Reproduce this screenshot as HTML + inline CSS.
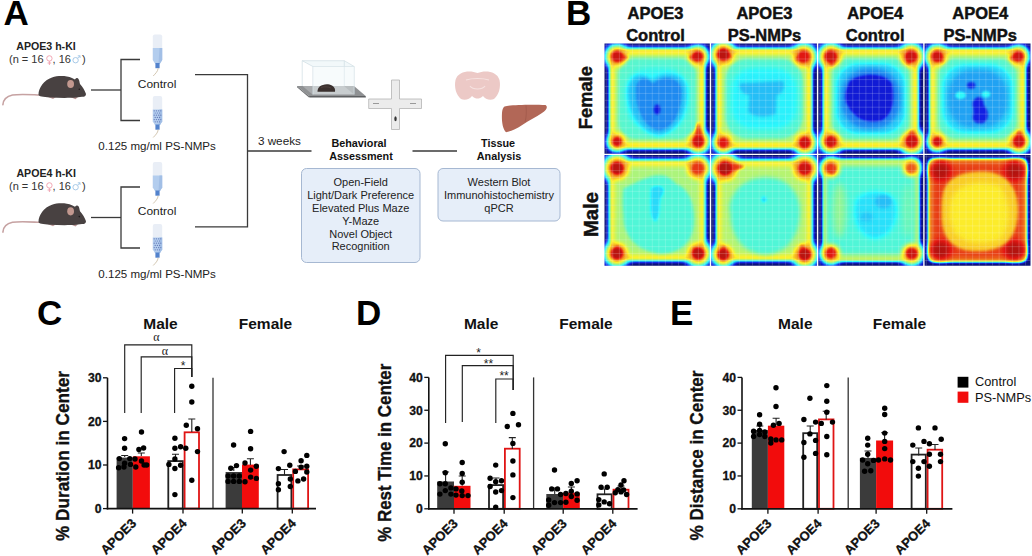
<!DOCTYPE html><html><head><meta charset="utf-8"><title>Figure</title><style>html,body{margin:0;padding:0;background:#fff;width:1032px;height:556px;overflow:hidden;}body{font-family:'Liberation Sans', sans-serif;position:relative;}</style></head><body><svg width="1032" height="556" viewBox="0 0 1032 556" style="position:absolute;left:0;top:0;font-family:'Liberation Sans', sans-serif"><defs><filter id="b0_6" x="-50%" y="-50%" width="200%" height="200%" color-interpolation-filters="sRGB"><feGaussianBlur stdDeviation="0.6"/></filter><filter id="b0_8" x="-50%" y="-50%" width="200%" height="200%" color-interpolation-filters="sRGB"><feGaussianBlur stdDeviation="0.8"/></filter><filter id="b1_0" x="-50%" y="-50%" width="200%" height="200%" color-interpolation-filters="sRGB"><feGaussianBlur stdDeviation="1.0"/></filter><filter id="b1_2" x="-50%" y="-50%" width="200%" height="200%" color-interpolation-filters="sRGB"><feGaussianBlur stdDeviation="1.2"/></filter><filter id="b1_5" x="-50%" y="-50%" width="200%" height="200%" color-interpolation-filters="sRGB"><feGaussianBlur stdDeviation="1.5"/></filter><filter id="b1_8" x="-50%" y="-50%" width="200%" height="200%" color-interpolation-filters="sRGB"><feGaussianBlur stdDeviation="1.8"/></filter><filter id="b2_0" x="-50%" y="-50%" width="200%" height="200%" color-interpolation-filters="sRGB"><feGaussianBlur stdDeviation="2.0"/></filter><filter id="b2_5" x="-50%" y="-50%" width="200%" height="200%" color-interpolation-filters="sRGB"><feGaussianBlur stdDeviation="2.5"/></filter><filter id="b3_0" x="-50%" y="-50%" width="200%" height="200%" color-interpolation-filters="sRGB"><feGaussianBlur stdDeviation="3.0"/></filter><filter id="b3_5" x="-50%" y="-50%" width="200%" height="200%" color-interpolation-filters="sRGB"><feGaussianBlur stdDeviation="3.5"/></filter><filter id="b4_0" x="-50%" y="-50%" width="200%" height="200%" color-interpolation-filters="sRGB"><feGaussianBlur stdDeviation="4.0"/></filter><filter id="jet" x="0" y="0" width="100%" height="100%" color-interpolation-filters="sRGB"><feComponentTransfer><feFuncR type="table" tableValues="0.000 0.000 0.000 0.000 0.000 0.000 0.000 0.250 0.500 0.750 1.000 1.000 1.000 1.000 1.000 0.750 0.500"/><feFuncG type="table" tableValues="0.000 0.000 0.000 0.250 0.500 0.750 1.000 1.000 1.000 1.000 1.000 0.750 0.500 0.250 0.000 0.000 0.000"/><feFuncB type="table" tableValues="0.500 0.750 1.000 1.000 1.000 1.000 1.000 0.750 0.500 0.250 0.000 0.000 0.000 0.000 0.000 0.000 0.000"/></feComponentTransfer><feColorMatrix type="matrix" values="0.86 0.1 0.04 0 0.03  0.06 0.86 0.08 0 0.03  0.04 0.1 0.86 0 0.03  0 0 0 1 0"/></filter><pattern id="grid" x="604.5" y="43.5" width="7" height="7.35" patternUnits="userSpaceOnUse"><path d="M7 0 V7.35 H0" fill="none" stroke="#fff" stroke-width="0.7" opacity="0.35"/></pattern><clipPath id="c00"><rect x="604.5" y="43.5" width="105.3" height="110.2"/></clipPath><clipPath id="c10"><rect x="711.2" y="43.5" width="105.7" height="110.2"/></clipPath><clipPath id="c20"><rect x="818.3" y="43.5" width="104.9" height="110.2"/></clipPath><clipPath id="c30"><rect x="924.6" y="43.5" width="105.9" height="110.2"/></clipPath><clipPath id="c01"><rect x="604.5" y="155.1" width="105.3" height="110.6"/></clipPath><clipPath id="c11"><rect x="711.2" y="155.1" width="105.7" height="110.6"/></clipPath><clipPath id="c21"><rect x="818.3" y="155.1" width="104.9" height="110.6"/></clipPath><clipPath id="c31"><rect x="924.6" y="155.1" width="105.9" height="110.6"/></clipPath></defs><text x="3.5" y="25" font-size="35" font-weight="bold" text-anchor="start" fill="#000" >A</text>
<g transform="translate(0,0)"><path d="M39.5 95 C 30 94.6, 20 93.8, 12.5 95 C 6.5 96.3, 3.2 100, 2.9 104.8" fill="none" stroke="#c6a2a2" stroke-width="1.6" stroke-linecap="round"/><path d="M47 96.5 L 53 99 L 56 97 Z" fill="#c09a9a"/><path d="M69 96.5 L 75.5 99.3 L 78 97 Z" fill="#b89494"/><path d="M38.5 94.5 C 38.5 88, 44 80, 52 77.5 C 58 75.5, 66 75.5, 72 78 L 75 79.5 C 76 78, 77.5 77.5, 78.5 79 C 79.5 80.5, 79.5 82.5, 80 84 C 82.5 87, 85 90.5, 86 94 C 86 96, 84.5 96.8, 82 96.8 L 76 97.5 C 70 98, 60 98, 50 97.5 C 43 97, 38.5 96.5, 38.5 94.5 Z" fill="#484141"/><ellipse cx="70.6" cy="84" rx="3.4" ry="4.1" fill="#c2988f"/><circle cx="79.3" cy="89.3" r="0.8" fill="#1e1a1a"/></g>
<g transform="translate(0,127.3)"><path d="M39.5 95 C 30 94.6, 20 93.8, 12.5 95 C 6.5 96.3, 3.2 100, 2.9 104.8" fill="none" stroke="#c6a2a2" stroke-width="1.6" stroke-linecap="round"/><path d="M47 96.5 L 53 99 L 56 97 Z" fill="#c09a9a"/><path d="M69 96.5 L 75.5 99.3 L 78 97 Z" fill="#b89494"/><path d="M38.5 94.5 C 38.5 88, 44 80, 52 77.5 C 58 75.5, 66 75.5, 72 78 L 75 79.5 C 76 78, 77.5 77.5, 78.5 79 C 79.5 80.5, 79.5 82.5, 80 84 C 82.5 87, 85 90.5, 86 94 C 86 96, 84.5 96.8, 82 96.8 L 76 97.5 C 70 98, 60 98, 50 97.5 C 43 97, 38.5 96.5, 38.5 94.5 Z" fill="#484141"/><ellipse cx="70.6" cy="84" rx="3.4" ry="4.1" fill="#c2988f"/><circle cx="79.3" cy="89.3" r="0.8" fill="#1e1a1a"/></g>
<text x="46" y="50" font-size="10.5" font-weight="bold" text-anchor="middle" fill="#222" textLength="59.5" lengthAdjust="spacingAndGlyphs">APOE3 h-KI</text>
<text x="9" y="63.3" font-size="11" fill="#333">(n = 16</text>
<circle cx="49.4" cy="58.4" r="2.7" fill="none" stroke="#f0a2b0" stroke-width="0.95"/>
<path d="M49.4 61.1 V65 M47.6 63 H51.2" stroke="#f0a2b0" stroke-width="0.95" fill="none"/>
<text x="52.6" y="63.3" font-size="11" fill="#333">, 16</text>
<circle cx="75.6" cy="60.2" r="2.7" fill="none" stroke="#a2c6e6" stroke-width="0.95"/>
<path d="M77.5 58.3 L80 55.8 M77.8 55.8 H80 V58" stroke="#a2c6e6" stroke-width="0.9" fill="none"/>
<text x="82" y="63.3" font-size="11" fill="#333">)</text>
<text x="46.2" y="177" font-size="10.5" font-weight="bold" text-anchor="middle" fill="#222" textLength="59.5" lengthAdjust="spacingAndGlyphs">APOE4 h-KI</text>
<text x="9" y="190.3" font-size="11" fill="#333">(n = 16</text>
<circle cx="49.4" cy="185.4" r="2.7" fill="none" stroke="#f0a2b0" stroke-width="0.95"/>
<path d="M49.4 188.1 V192 M47.6 190 H51.2" stroke="#f0a2b0" stroke-width="0.95" fill="none"/>
<text x="52.6" y="190.3" font-size="11" fill="#333">, 16</text>
<circle cx="75.6" cy="187.2" r="2.7" fill="none" stroke="#a2c6e6" stroke-width="0.95"/>
<path d="M77.5 185.3 L80 182.8 M77.8 182.8 H80 V185" stroke="#a2c6e6" stroke-width="0.9" fill="none"/>
<text x="82" y="190.3" font-size="11" fill="#333">)</text>
<line x1="91" y1="90" x2="121" y2="90" stroke="#3a3a3a" stroke-width="1.3"/>
<path d="M140 59.5 H121 V120.5 H140" fill="none" stroke="#3a3a3a" stroke-width="1.3"/>
<text x="157.1" y="87.8" font-size="11.8" font-weight="normal" text-anchor="middle" fill="#222" textLength="38.6" lengthAdjust="spacingAndGlyphs">Control</text>
<text x="157.1" y="150.2" font-size="11.7" font-weight="normal" text-anchor="middle" fill="#222" textLength="117.5" lengthAdjust="spacingAndGlyphs">0.125 mg/ml PS-NMPs</text>
<line x1="91" y1="217.5" x2="121" y2="217.5" stroke="#3a3a3a" stroke-width="1.3"/>
<path d="M140 187.0 H121 V248.0 H140" fill="none" stroke="#3a3a3a" stroke-width="1.3"/>
<text x="157.1" y="215.3" font-size="11.8" font-weight="normal" text-anchor="middle" fill="#222" textLength="38.6" lengthAdjust="spacingAndGlyphs">Control</text>
<text x="157.1" y="277.7" font-size="11.7" font-weight="normal" text-anchor="middle" fill="#222" textLength="117.5" lengthAdjust="spacingAndGlyphs">0.125 mg/ml PS-NMPs</text>
<g transform="translate(152,34.5)"><path d="M0.8 2 Q0.8 0 2.8 0 H8.2 Q10.2 0 10.2 2 V25.5 L8 29 H3 L0.8 25.5 Z" fill="#e9eef6"/><path d="M0.8 13.5 H10.2 V25.5 L8 29 H3 L0.8 25.5 Z" fill="#b3cdee"/><path d="M7.5 13.5 H10.2 V25.5 L8 29 H6.5 Z" fill="#a2bfe6"/><rect x="3.4" y="28.5" width="4.2" height="5.2" fill="#5282cc"/><path d="M6.2 33.7 C 5.8 37, 3.5 39, 1.2 41.5" fill="none" stroke="#cdbfa8" stroke-width="0.9"/></g>
<g transform="translate(152,96)"><path d="M0.8 2 Q0.8 0 2.8 0 H8.2 Q10.2 0 10.2 2 V25.5 L8 29 H3 L0.8 25.5 Z" fill="#e9eef6"/><path d="M0.8 13.5 H10.2 V25.5 L8 29 H3 L0.8 25.5 Z" fill="#b3cdee"/><path d="M7.5 13.5 H10.2 V25.5 L8 29 H6.5 Z" fill="#a2bfe6"/><circle cx="2.2" cy="14.8" r="0.62" fill="#6478b8"/><circle cx="4.4" cy="14.8" r="0.62" fill="#6478b8"/><circle cx="6.6" cy="14.8" r="0.62" fill="#6478b8"/><circle cx="8.8" cy="14.8" r="0.62" fill="#6478b8"/><circle cx="3.2" cy="17.0" r="0.62" fill="#6478b8"/><circle cx="5.4" cy="17.0" r="0.62" fill="#6478b8"/><circle cx="7.6" cy="17.0" r="0.62" fill="#6478b8"/><circle cx="2.2" cy="19.2" r="0.62" fill="#6478b8"/><circle cx="4.4" cy="19.2" r="0.62" fill="#6478b8"/><circle cx="6.6" cy="19.2" r="0.62" fill="#6478b8"/><circle cx="8.8" cy="19.2" r="0.62" fill="#6478b8"/><circle cx="3.2" cy="21.4" r="0.62" fill="#6478b8"/><circle cx="5.4" cy="21.4" r="0.62" fill="#6478b8"/><circle cx="7.6" cy="21.4" r="0.62" fill="#6478b8"/><circle cx="2.2" cy="23.6" r="0.62" fill="#6478b8"/><circle cx="4.4" cy="23.6" r="0.62" fill="#6478b8"/><circle cx="6.6" cy="23.6" r="0.62" fill="#6478b8"/><circle cx="8.8" cy="23.6" r="0.62" fill="#6478b8"/><circle cx="3.2" cy="25.8" r="0.62" fill="#6478b8"/><circle cx="5.4" cy="25.8" r="0.62" fill="#6478b8"/><circle cx="7.6" cy="25.8" r="0.62" fill="#6478b8"/><rect x="3.4" y="28.5" width="4.2" height="5.2" fill="#5282cc"/><path d="M6.2 33.7 C 5.8 37, 3.5 39, 1.2 41.5" fill="none" stroke="#cdbfa8" stroke-width="0.9"/></g>
<g transform="translate(152,162)"><path d="M0.8 2 Q0.8 0 2.8 0 H8.2 Q10.2 0 10.2 2 V25.5 L8 29 H3 L0.8 25.5 Z" fill="#e9eef6"/><path d="M0.8 13.5 H10.2 V25.5 L8 29 H3 L0.8 25.5 Z" fill="#b3cdee"/><path d="M7.5 13.5 H10.2 V25.5 L8 29 H6.5 Z" fill="#a2bfe6"/><rect x="3.4" y="28.5" width="4.2" height="5.2" fill="#5282cc"/><path d="M6.2 33.7 C 5.8 37, 3.5 39, 1.2 41.5" fill="none" stroke="#cdbfa8" stroke-width="0.9"/></g>
<g transform="translate(152,224)"><path d="M0.8 2 Q0.8 0 2.8 0 H8.2 Q10.2 0 10.2 2 V25.5 L8 29 H3 L0.8 25.5 Z" fill="#e9eef6"/><path d="M0.8 13.5 H10.2 V25.5 L8 29 H3 L0.8 25.5 Z" fill="#b3cdee"/><path d="M7.5 13.5 H10.2 V25.5 L8 29 H6.5 Z" fill="#a2bfe6"/><circle cx="2.2" cy="14.8" r="0.62" fill="#6478b8"/><circle cx="4.4" cy="14.8" r="0.62" fill="#6478b8"/><circle cx="6.6" cy="14.8" r="0.62" fill="#6478b8"/><circle cx="8.8" cy="14.8" r="0.62" fill="#6478b8"/><circle cx="3.2" cy="17.0" r="0.62" fill="#6478b8"/><circle cx="5.4" cy="17.0" r="0.62" fill="#6478b8"/><circle cx="7.6" cy="17.0" r="0.62" fill="#6478b8"/><circle cx="2.2" cy="19.2" r="0.62" fill="#6478b8"/><circle cx="4.4" cy="19.2" r="0.62" fill="#6478b8"/><circle cx="6.6" cy="19.2" r="0.62" fill="#6478b8"/><circle cx="8.8" cy="19.2" r="0.62" fill="#6478b8"/><circle cx="3.2" cy="21.4" r="0.62" fill="#6478b8"/><circle cx="5.4" cy="21.4" r="0.62" fill="#6478b8"/><circle cx="7.6" cy="21.4" r="0.62" fill="#6478b8"/><circle cx="2.2" cy="23.6" r="0.62" fill="#6478b8"/><circle cx="4.4" cy="23.6" r="0.62" fill="#6478b8"/><circle cx="6.6" cy="23.6" r="0.62" fill="#6478b8"/><circle cx="8.8" cy="23.6" r="0.62" fill="#6478b8"/><circle cx="3.2" cy="25.8" r="0.62" fill="#6478b8"/><circle cx="5.4" cy="25.8" r="0.62" fill="#6478b8"/><circle cx="7.6" cy="25.8" r="0.62" fill="#6478b8"/><rect x="3.4" y="28.5" width="4.2" height="5.2" fill="#5282cc"/><path d="M6.2 33.7 C 5.8 37, 3.5 39, 1.2 41.5" fill="none" stroke="#cdbfa8" stroke-width="0.9"/></g>
<path d="M195 74.7 H247.5 V226.9 H195" fill="none" stroke="#3a3a3a" stroke-width="1.3"/>
<line x1="247.5" y1="151" x2="311.5" y2="151" stroke="#3a3a3a" stroke-width="1.3"/>
<line x1="412.5" y1="151" x2="457" y2="151" stroke="#3a3a3a" stroke-width="1.3"/>
<text x="279.4" y="145.2" font-size="11.7" font-weight="normal" text-anchor="middle" fill="#222" textLength="43" lengthAdjust="spacingAndGlyphs">3 weeks</text>
<path d="M297 86 H354 L365.7 96 H309 Z" fill="#8f9193"/>
<path d="M302.5 86 H344 L354 94.5 H312.5 Z" fill="#a9abad"/>
<path d="M309 96 H365.7 L365.9 97.6 H309.3 Z" fill="#5d5f61"/>
<path d="M297 86 L309 96 V97.6 L297 87.2 Z" fill="#6f7173"/>
<path d="M302.2 60.7 H344.3 L354.2 66.5 H312.9 Z" fill="#f2f8fa" stroke="#cfdde3" stroke-width="0.7"/>
<path d="M302.2 60.7 V86 M344.3 60.7 V86 M312.9 66.5 V94.5 M354.2 66.5 V94.5" fill="none" stroke="#cfdde3" stroke-width="0.7"/>
<path d="M312.9 66.5 H354.2 V94.5 H312.9 Z" fill="#eef6f8" opacity="0.45"/>
<path d="M317.5 91.8 C 317.5 88, 320 85.5, 323 85 C 325 84, 329 83.8, 332 85.5 C 334.5 87, 335.5 89.5, 335 91.8 Z" fill="#3a302e"/>
<path d="M321 87.5 C 324 86.5, 328 86.5, 331 88" fill="none" stroke="#5a4a46" stroke-width="0.6"/>
<path d="M391.5 80 H399.5 V99 H421.5 V108.5 H399.5 V129.5 H391.5 V108.5 H368.7 V99 H391.5 Z" fill="#ececec" stroke="#b4b4b4" stroke-width="0.8"/>
<rect x="373" y="103" width="6" height="1" fill="#999"/><rect x="410" y="103" width="6" height="1" fill="#999"/>
<ellipse cx="395.5" cy="118.8" rx="1.2" ry="2.5" fill="#333"/>
<text x="359" y="147.2" font-size="10.8" font-weight="bold" text-anchor="middle" fill="#111" >Behavioral</text>
<text x="361" y="159.8" font-size="10.8" font-weight="bold" text-anchor="middle" fill="#111" >Assessment</text>
<text x="498" y="146.8" font-size="10.8" font-weight="bold" text-anchor="middle" fill="#111" >Tissue</text>
<text x="499" y="160.0" font-size="10.8" font-weight="bold" text-anchor="middle" fill="#111" >Analysis</text>
<rect x="301.5" y="168.5" width="118.5" height="94" rx="5" fill="#e6eef9" stroke="#a6b8d2" stroke-width="1"/>
<text x="360.7" y="185.9" font-size="11" font-weight="normal" text-anchor="middle" fill="#222" >Open-Field</text>
<text x="360.7" y="198.8" font-size="11" font-weight="normal" text-anchor="middle" fill="#222" >Light/Dark Preference</text>
<text x="360.7" y="211.70000000000002" font-size="11" font-weight="normal" text-anchor="middle" fill="#222" >Elevated Plus Maze</text>
<text x="360.7" y="224.60000000000002" font-size="11" font-weight="normal" text-anchor="middle" fill="#222" >Y-Maze</text>
<text x="360.7" y="237.5" font-size="11" font-weight="normal" text-anchor="middle" fill="#222" >Novel Object</text>
<text x="360.7" y="250.4" font-size="11" font-weight="normal" text-anchor="middle" fill="#222" >Recognition</text>
<rect x="438" y="168.5" width="122" height="52.5" rx="5" fill="#e6eef9" stroke="#a6b8d2" stroke-width="1"/>
<text x="499" y="186.2" font-size="11" font-weight="normal" text-anchor="middle" fill="#222" >Western Blot</text>
<text x="499" y="199.1" font-size="11" font-weight="normal" text-anchor="middle" fill="#222" >Immunohistochemistry</text>
<text x="499" y="212.0" font-size="11" font-weight="normal" text-anchor="middle" fill="#222" >qPCR</text>
<path d="M477.5 73 C 470 70, 458 71, 455.5 80 C 454 87, 456 95, 461 99 C 465 101, 470 99, 472 96 C 474 98, 476 98.5, 477.5 98.5 C 479 98.5, 481 98, 483 96 C 485 99, 490 101, 494 99 C 499 95, 501 87, 499.5 80 C 497 71, 485 70, 477.5 73 Z" fill="#ecc9c6"/>
<path d="M470 86 C 473 90, 482 90, 485 86 M466 80 C 472 78, 483 78, 489 80" fill="none" stroke="#f6e2e0" stroke-width="1.2"/>
<path d="M504.5 106.5 C 512 104.5, 534 104.5, 545.5 105 C 548 106.5, 547 110, 542 113 C 536 117, 529 120.5, 523 124.5 C 516 129, 511 131.5, 506 132.2 C 502.5 129, 501.5 121, 502 113 C 502.2 110, 503 107.5, 504.5 106.5 Z" fill="#b26757"/>
<path d="M526 105.5 C 526.5 111, 526.5 117, 525 122" fill="none" stroke="#9a5446" stroke-width="0.6"/>
<text x="566" y="25" font-size="35" font-weight="bold" text-anchor="start" fill="#000" >B</text>
<text x="655.5" y="19" font-size="16.5" font-weight="bold" text-anchor="middle" fill="#111" stroke="#111" stroke-width="0.45">APOE3</text>
<text x="655.5" y="41" font-size="16.5" font-weight="bold" text-anchor="middle" fill="#111" stroke="#111" stroke-width="0.45">Control</text>
<text x="764.4" y="19" font-size="16.5" font-weight="bold" text-anchor="middle" fill="#111" stroke="#111" stroke-width="0.45">APOE3</text>
<text x="764.4" y="41" font-size="16.5" font-weight="bold" text-anchor="middle" fill="#111" stroke="#111" stroke-width="0.45">PS-NMPs</text>
<text x="875.2" y="19" font-size="16.5" font-weight="bold" text-anchor="middle" fill="#111" stroke="#111" stroke-width="0.45">APOE4</text>
<text x="875.2" y="41" font-size="16.5" font-weight="bold" text-anchor="middle" fill="#111" stroke="#111" stroke-width="0.45">Control</text>
<text x="980.3" y="19" font-size="16.5" font-weight="bold" text-anchor="middle" fill="#111" stroke="#111" stroke-width="0.45">APOE4</text>
<text x="980.3" y="41" font-size="16.5" font-weight="bold" text-anchor="middle" fill="#111" stroke="#111" stroke-width="0.45">PS-NMPs</text>
<text x="0" y="0" font-size="19" font-weight="bold" text-anchor="middle" fill="#111" transform="translate(592,97.7) rotate(-90)" textLength="63" lengthAdjust="spacingAndGlyphs" stroke="#111" stroke-width="0.45">Female</text>
<text x="0" y="0" font-size="19.5" font-weight="bold" text-anchor="middle" fill="#111" transform="translate(597.5,214.5) rotate(-90)" textLength="45" lengthAdjust="spacingAndGlyphs" stroke="#111" stroke-width="0.45">Male</text>
<rect x="603.5" y="42.5" width="428" height="225" fill="#ffffff"/>
<g clip-path="url(#c00)"><g filter="url(#jet)"><rect x="599.5" y="38.5" width="115.3" height="120.2" rx="0" fill="rgb(0,0,0)"/><rect x="608.1" y="46.5" width="98.1" height="103.8" rx="5" fill="rgb(87,87,87)" filter="url(#b0_8)"/><rect x="610.1" y="49.1" width="94.1" height="99.0" rx="7" fill="rgb(163,163,163)" filter="url(#b1_2)"/><rect x="614.5" y="54.5" width="85.3" height="88.2" rx="12" fill="rgb(138,138,138)" filter="url(#b1_5)"/><rect x="618.0" y="58.0" width="78.3" height="81.2" rx="18" fill="rgb(110,110,110)" filter="url(#b1_8)"/><rect x="626.5" y="67.5" width="61.3" height="62.2" rx="24" fill="rgb(99,99,99)" filter="url(#b3_0)"/><path d="M 627.7 87.6 C 631.9 72.2 642.4 72.2 651.9 79.9 C 663.5 69.9 684.5 72.2 686.6 87.6 C 688.7 107.4 680.3 131.7 659.3 136.1 C 636.1 131.7 625.6 105.2 627.7 87.6 Z" fill="rgb(79,79,79)" filter="url(#b2_0)"/><path d="M 636.1 85.4 C 639.2 76.6 646.6 76.6 652.9 83.2 C 663.5 74.4 680.3 76.6 681.4 89.8 C 682.4 107.4 676.1 127.3 659.3 130.6 C 642.4 127.3 634.0 105.2 636.1 85.4 Z" fill="rgb(64,64,64)" filter="url(#b1_2)"/><ellipse cx="657.1" cy="109.6" rx="3.2" ry="5.0" fill="rgb(31,31,31)" filter="url(#b1_0)"/><g style="mix-blend-mode:lighten"><circle cx="617.1" cy="56.5" r="13.8" fill="rgb(102,102,102)" filter="url(#b2_5)"/></g><circle cx="617.1" cy="56.5" r="9.6" fill="rgb(189,189,189)" filter="url(#b2_5)"/><path d="M613.3 52.7 L628.1 57.5 L621.0 60.4 Z" fill="rgb(214,214,214)" filter="url(#b1_5)"/><path d="M617.1 52.1 L628.1 57.5 L617.1 60.9 Z" fill="rgb(214,214,214)" filter="url(#b1_5)"/><circle cx="617.1" cy="56.5" r="5.5" fill="rgb(230,230,230)" filter="url(#b1_2)"/><g style="mix-blend-mode:lighten"><circle cx="697.7" cy="56.5" r="12.5" fill="rgb(102,102,102)" filter="url(#b2_5)"/></g><circle cx="697.7" cy="56.5" r="8.8" fill="rgb(189,189,189)" filter="url(#b2_5)"/><path d="M694.2 60.0 L688.7 57.5 L701.2 53.0 Z" fill="rgb(214,214,214)" filter="url(#b1_5)"/><path d="M697.7 52.5 L688.7 57.5 L697.7 60.5 Z" fill="rgb(214,214,214)" filter="url(#b1_5)"/><circle cx="697.7" cy="56.5" r="5.0" fill="rgb(230,230,230)" filter="url(#b1_2)"/><g style="mix-blend-mode:lighten"><circle cx="617.1" cy="141.6" r="11.2" fill="rgb(102,102,102)" filter="url(#b2_5)"/></g><circle cx="617.1" cy="141.6" r="7.9" fill="rgb(189,189,189)" filter="url(#b2_5)"/><circle cx="617.1" cy="141.6" r="4.5" fill="rgb(230,230,230)" filter="url(#b1_2)"/><g style="mix-blend-mode:lighten"><circle cx="698.2" cy="141.6" r="13.8" fill="rgb(102,102,102)" filter="url(#b2_5)"/></g><circle cx="698.2" cy="141.6" r="9.6" fill="rgb(189,189,189)" filter="url(#b2_5)"/><path d="M694.4 145.4 L698.2 121.6 L702.1 137.7 Z" fill="rgb(214,214,214)" filter="url(#b1_5)"/><path d="M693.8 141.6 L698.2 121.6 L702.6 141.6 Z" fill="rgb(214,214,214)" filter="url(#b1_5)"/><circle cx="698.2" cy="141.6" r="5.5" fill="rgb(230,230,230)" filter="url(#b1_2)"/></g><path d="M606.20 43.5 V153.7 M612.78 43.5 V153.7 M619.36 43.5 V153.7 M625.94 43.5 V153.7 M632.53 43.5 V153.7 M639.11 43.5 V153.7 M645.69 43.5 V153.7 M652.27 43.5 V153.7 M658.85 43.5 V153.7 M665.43 43.5 V153.7 M672.01 43.5 V153.7 M678.59 43.5 V153.7 M685.17 43.5 V153.7 M691.76 43.5 V153.7 M698.34 43.5 V153.7 M704.92 43.5 V153.7 M604.5 45.20 H709.8 M604.5 52.09 H709.8 M604.5 58.98 H709.8 M604.5 65.86 H709.8 M604.5 72.75 H709.8 M604.5 79.64 H709.8 M604.5 86.53 H709.8 M604.5 93.41 H709.8 M604.5 100.30 H709.8 M604.5 107.19 H709.8 M604.5 114.08 H709.8 M604.5 120.96 H709.8 M604.5 127.85 H709.8 M604.5 134.74 H709.8 M604.5 141.62 H709.8 M604.5 148.51 H709.8" stroke="#ffffff" stroke-width="0.6" opacity="0.3" fill="none"/></g>
<g clip-path="url(#c10)"><g filter="url(#jet)"><rect x="706.2" y="38.5" width="115.7" height="120.2" rx="0" fill="rgb(0,0,0)"/><rect x="714.8" y="46.5" width="98.5" height="103.8" rx="5" fill="rgb(87,87,87)" filter="url(#b0_8)"/><rect x="716.8" y="49.1" width="94.5" height="99.0" rx="7" fill="rgb(163,163,163)" filter="url(#b1_2)"/><rect x="721.2" y="54.5" width="85.7" height="88.2" rx="12" fill="rgb(138,138,138)" filter="url(#b1_5)"/><rect x="725.2" y="58.5" width="77.7" height="80.2" rx="22" fill="rgb(110,110,110)" filter="url(#b1_8)"/><rect x="732.2" y="67.5" width="63.7" height="62.2" rx="26" fill="rgb(99,99,99)" filter="url(#b3_5)"/><rect x="732.3" y="69.9" width="63.4" height="57.3" rx="18" fill="rgb(94,94,94)" filter="url(#b3_0)"/><path d="M 739.7 83.2 L 783.1 81.0 C 786.2 87.6 782.0 94.2 776.7 95.3 L 775.7 114.0 C 764.0 118.4 753.5 117.3 748.2 111.8 L 749.3 95.3 C 742.9 94.2 738.7 89.8 739.7 83.2 Z" fill="rgb(79,79,79)" filter="url(#b1_5)"/><g style="mix-blend-mode:lighten"><circle cx="723.4" cy="54.5" r="15.0" fill="rgb(102,102,102)" filter="url(#b2_5)"/></g><circle cx="723.4" cy="54.5" r="10.5" fill="rgb(189,189,189)" filter="url(#b2_5)"/><path d="M719.2 50.3 L731.4 56.5 L727.6 58.7 Z" fill="rgb(214,214,214)" filter="url(#b1_5)"/><path d="M723.4 49.7 L731.4 56.5 L723.4 59.3 Z" fill="rgb(214,214,214)" filter="url(#b1_5)"/><circle cx="723.4" cy="54.5" r="6.0" fill="rgb(235,235,235)" filter="url(#b1_2)"/><g style="mix-blend-mode:lighten"><circle cx="803.7" cy="56.7" r="15.0" fill="rgb(102,102,102)" filter="url(#b2_5)"/></g><circle cx="803.7" cy="56.7" r="10.5" fill="rgb(189,189,189)" filter="url(#b2_5)"/><path d="M799.5 60.9 L795.7 58.7 L807.9 52.5 Z" fill="rgb(214,214,214)" filter="url(#b1_5)"/><path d="M803.7 51.9 L795.7 58.7 L803.7 61.5 Z" fill="rgb(214,214,214)" filter="url(#b1_5)"/><circle cx="803.7" cy="56.7" r="6.0" fill="rgb(224,224,224)" filter="url(#b1_2)"/><g style="mix-blend-mode:lighten"><circle cx="723.4" cy="142.7" r="12.5" fill="rgb(102,102,102)" filter="url(#b2_5)"/></g><circle cx="723.4" cy="142.7" r="8.8" fill="rgb(189,189,189)" filter="url(#b2_5)"/><circle cx="723.4" cy="142.7" r="5.0" fill="rgb(224,224,224)" filter="url(#b1_2)"/><g style="mix-blend-mode:lighten"><circle cx="804.7" cy="142.7" r="13.8" fill="rgb(102,102,102)" filter="url(#b2_5)"/></g><circle cx="804.7" cy="142.7" r="9.6" fill="rgb(189,189,189)" filter="url(#b2_5)"/><path d="M800.9 146.5 L804.7 136.7 L808.6 138.8 Z" fill="rgb(214,214,214)" filter="url(#b1_5)"/><path d="M800.3 142.7 L804.7 136.7 L809.1 142.7 Z" fill="rgb(214,214,214)" filter="url(#b1_5)"/><circle cx="804.7" cy="142.7" r="5.5" fill="rgb(230,230,230)" filter="url(#b1_2)"/></g><path d="M712.90 43.5 V153.7 M719.51 43.5 V153.7 M726.11 43.5 V153.7 M732.72 43.5 V153.7 M739.33 43.5 V153.7 M745.93 43.5 V153.7 M752.54 43.5 V153.7 M759.14 43.5 V153.7 M765.75 43.5 V153.7 M772.36 43.5 V153.7 M778.96 43.5 V153.7 M785.57 43.5 V153.7 M792.18 43.5 V153.7 M798.78 43.5 V153.7 M805.39 43.5 V153.7 M811.99 43.5 V153.7 M711.2 45.20 H816.9 M711.2 52.09 H816.9 M711.2 58.98 H816.9 M711.2 65.86 H816.9 M711.2 72.75 H816.9 M711.2 79.64 H816.9 M711.2 86.53 H816.9 M711.2 93.41 H816.9 M711.2 100.30 H816.9 M711.2 107.19 H816.9 M711.2 114.08 H816.9 M711.2 120.96 H816.9 M711.2 127.85 H816.9 M711.2 134.74 H816.9 M711.2 141.62 H816.9 M711.2 148.51 H816.9" stroke="#ffffff" stroke-width="0.6" opacity="0.3" fill="none"/></g>
<g clip-path="url(#c20)"><g filter="url(#jet)"><rect x="813.3" y="38.5" width="114.9" height="120.2" rx="0" fill="rgb(0,0,0)"/><rect x="821.9" y="46.5" width="97.7" height="103.8" rx="5" fill="rgb(87,87,87)" filter="url(#b0_8)"/><rect x="823.9" y="49.1" width="93.7" height="99.0" rx="7" fill="rgb(163,163,163)" filter="url(#b1_2)"/><rect x="828.3" y="54.5" width="84.9" height="88.2" rx="12" fill="rgb(138,138,138)" filter="url(#b1_5)"/><rect x="831.8" y="58.0" width="77.9" height="81.2" rx="18" fill="rgb(110,110,110)" filter="url(#b1_8)"/><rect x="836.3" y="63.5" width="68.9" height="70.2" rx="22" fill="rgb(84,84,84)" filter="url(#b2_0)"/><rect x="841.3" y="68.5" width="58.9" height="60.2" rx="26" fill="rgb(61,61,61)" filter="url(#b2_5)"/><path d="M 849.8 81.0 C 862.4 72.2 883.3 72.2 891.7 83.2 C 894.9 98.6 893.8 114.0 881.2 120.6 C 866.6 123.9 854.0 118.4 847.7 105.2 C 843.5 98.6 845.6 89.8 849.8 81.0 Z" fill="rgb(28,28,28)" filter="url(#b1_2)"/><g style="mix-blend-mode:lighten"><circle cx="830.9" cy="56.5" r="15.0" fill="rgb(102,102,102)" filter="url(#b2_5)"/></g><circle cx="830.9" cy="56.5" r="10.5" fill="rgb(189,189,189)" filter="url(#b2_5)"/><path d="M826.7 52.3 L831.9 66.5 L835.1 60.7 Z" fill="rgb(214,214,214)" filter="url(#b1_5)"/><path d="M826.1 56.5 L831.9 66.5 L835.7 56.5 Z" fill="rgb(214,214,214)" filter="url(#b1_5)"/><circle cx="830.9" cy="56.5" r="6.0" fill="rgb(230,230,230)" filter="url(#b1_2)"/><g style="mix-blend-mode:lighten"><circle cx="911.1" cy="56.5" r="15.0" fill="rgb(102,102,102)" filter="url(#b2_5)"/></g><circle cx="911.1" cy="56.5" r="10.5" fill="rgb(189,189,189)" filter="url(#b2_5)"/><path d="M906.9 60.7 L908.1 64.5 L915.3 52.3 Z" fill="rgb(214,214,214)" filter="url(#b1_5)"/><path d="M906.3 56.5 L908.1 64.5 L915.9 56.5 Z" fill="rgb(214,214,214)" filter="url(#b1_5)"/><circle cx="911.1" cy="56.5" r="6.0" fill="rgb(230,230,230)" filter="url(#b1_2)"/><g style="mix-blend-mode:lighten"><circle cx="830.9" cy="141.6" r="13.8" fill="rgb(102,102,102)" filter="url(#b2_5)"/></g><circle cx="830.9" cy="141.6" r="9.6" fill="rgb(189,189,189)" filter="url(#b2_5)"/><circle cx="830.9" cy="141.6" r="5.5" fill="rgb(230,230,230)" filter="url(#b1_2)"/><g style="mix-blend-mode:lighten"><circle cx="911.7" cy="141.6" r="15.0" fill="rgb(102,102,102)" filter="url(#b2_5)"/></g><circle cx="911.7" cy="141.6" r="10.5" fill="rgb(189,189,189)" filter="url(#b2_5)"/><path d="M907.5 145.8 L911.7 129.6 L915.9 137.4 Z" fill="rgb(214,214,214)" filter="url(#b1_5)"/><path d="M906.9 141.6 L911.7 129.6 L916.5 141.6 Z" fill="rgb(214,214,214)" filter="url(#b1_5)"/><circle cx="911.7" cy="141.6" r="6.0" fill="rgb(230,230,230)" filter="url(#b1_2)"/></g><path d="M820.00 43.5 V153.7 M826.56 43.5 V153.7 M833.11 43.5 V153.7 M839.67 43.5 V153.7 M846.23 43.5 V153.7 M852.78 43.5 V153.7 M859.34 43.5 V153.7 M865.89 43.5 V153.7 M872.45 43.5 V153.7 M879.01 43.5 V153.7 M885.56 43.5 V153.7 M892.12 43.5 V153.7 M898.68 43.5 V153.7 M905.23 43.5 V153.7 M911.79 43.5 V153.7 M918.34 43.5 V153.7 M818.3 45.20 H923.2 M818.3 52.09 H923.2 M818.3 58.98 H923.2 M818.3 65.86 H923.2 M818.3 72.75 H923.2 M818.3 79.64 H923.2 M818.3 86.53 H923.2 M818.3 93.41 H923.2 M818.3 100.30 H923.2 M818.3 107.19 H923.2 M818.3 114.08 H923.2 M818.3 120.96 H923.2 M818.3 127.85 H923.2 M818.3 134.74 H923.2 M818.3 141.62 H923.2 M818.3 148.51 H923.2" stroke="#ffffff" stroke-width="0.6" opacity="0.3" fill="none"/></g>
<g clip-path="url(#c30)"><g filter="url(#jet)"><rect x="919.6" y="38.5" width="115.9" height="120.2" rx="0" fill="rgb(0,0,0)"/><rect x="928.2" y="46.5" width="98.7" height="103.8" rx="5" fill="rgb(87,87,87)" filter="url(#b0_8)"/><rect x="930.2" y="49.1" width="94.7" height="99.0" rx="7" fill="rgb(163,163,163)" filter="url(#b1_2)"/><rect x="934.6" y="54.5" width="85.9" height="88.2" rx="12" fill="rgb(138,138,138)" filter="url(#b1_5)"/><rect x="938.1" y="58.5" width="78.9" height="80.2" rx="18" fill="rgb(110,110,110)" filter="url(#b1_8)"/><rect x="942.6" y="64.5" width="69.9" height="68.2" rx="22" fill="rgb(87,87,87)" filter="url(#b2_0)"/><rect x="947.6" y="69.5" width="59.9" height="58.2" rx="24" fill="rgb(71,71,71)" filter="url(#b2_5)"/><ellipse cx="971.2" cy="85.4" rx="4.2" ry="3.3" fill="rgb(36,36,36)" filter="url(#b1_0)"/><path d="M 973.3 100.8 C 977.5 94.2 983.9 96.4 983.9 105.2 C 988.1 109.6 990.3 118.4 983.9 122.8 C 975.4 125.0 971.2 120.6 973.3 114.0 C 974.4 109.6 971.2 105.2 973.3 100.8 Z" fill="rgb(33,33,33)" filter="url(#b1_0)"/><ellipse cx="960.6" cy="95.3" rx="5.3" ry="3.9" fill="rgb(97,97,97)" filter="url(#b1_2)"/><ellipse cx="986.0" cy="94.2" rx="4.2" ry="3.3" fill="rgb(97,97,97)" filter="url(#b1_2)"/><g style="mix-blend-mode:lighten"><circle cx="937.3" cy="56.5" r="13.8" fill="rgb(102,102,102)" filter="url(#b2_5)"/></g><circle cx="937.3" cy="56.5" r="9.6" fill="rgb(189,189,189)" filter="url(#b2_5)"/><path d="M933.5 52.7 L943.3 62.5 L941.2 60.4 Z" fill="rgb(214,214,214)" filter="url(#b1_5)"/><path d="M932.9 56.5 L943.3 62.5 L941.7 56.5 Z" fill="rgb(214,214,214)" filter="url(#b1_5)"/><circle cx="937.3" cy="56.5" r="5.5" fill="rgb(230,230,230)" filter="url(#b1_2)"/><g style="mix-blend-mode:lighten"><circle cx="1018.3" cy="56.5" r="12.5" fill="rgb(102,102,102)" filter="url(#b2_5)"/></g><circle cx="1018.3" cy="56.5" r="8.8" fill="rgb(189,189,189)" filter="url(#b2_5)"/><path d="M1014.8 60.0 L1009.3 58.5 L1021.8 53.0 Z" fill="rgb(214,214,214)" filter="url(#b1_5)"/><path d="M1018.3 52.5 L1009.3 58.5 L1018.3 60.5 Z" fill="rgb(214,214,214)" filter="url(#b1_5)"/><circle cx="1018.3" cy="56.5" r="5.0" fill="rgb(230,230,230)" filter="url(#b1_2)"/><g style="mix-blend-mode:lighten"><circle cx="937.3" cy="141.6" r="11.2" fill="rgb(102,102,102)" filter="url(#b2_5)"/></g><circle cx="937.3" cy="141.6" r="7.9" fill="rgb(189,189,189)" filter="url(#b2_5)"/><circle cx="937.3" cy="141.6" r="4.5" fill="rgb(230,230,230)" filter="url(#b1_2)"/><g style="mix-blend-mode:lighten"><circle cx="1018.9" cy="141.6" r="13.8" fill="rgb(102,102,102)" filter="url(#b2_5)"/></g><circle cx="1018.9" cy="141.6" r="9.6" fill="rgb(189,189,189)" filter="url(#b2_5)"/><path d="M1015.0 145.4 L1018.9 129.6 L1022.7 137.7 Z" fill="rgb(214,214,214)" filter="url(#b1_5)"/><path d="M1014.5 141.6 L1018.9 129.6 L1023.3 141.6 Z" fill="rgb(214,214,214)" filter="url(#b1_5)"/><circle cx="1018.9" cy="141.6" r="5.5" fill="rgb(230,230,230)" filter="url(#b1_2)"/></g><path d="M926.30 43.5 V153.7 M932.92 43.5 V153.7 M939.54 43.5 V153.7 M946.16 43.5 V153.7 M952.78 43.5 V153.7 M959.39 43.5 V153.7 M966.01 43.5 V153.7 M972.63 43.5 V153.7 M979.25 43.5 V153.7 M985.87 43.5 V153.7 M992.49 43.5 V153.7 M999.11 43.5 V153.7 M1005.73 43.5 V153.7 M1012.34 43.5 V153.7 M1018.96 43.5 V153.7 M1025.58 43.5 V153.7 M924.6 45.20 H1030.5 M924.6 52.09 H1030.5 M924.6 58.98 H1030.5 M924.6 65.86 H1030.5 M924.6 72.75 H1030.5 M924.6 79.64 H1030.5 M924.6 86.53 H1030.5 M924.6 93.41 H1030.5 M924.6 100.30 H1030.5 M924.6 107.19 H1030.5 M924.6 114.08 H1030.5 M924.6 120.96 H1030.5 M924.6 127.85 H1030.5 M924.6 134.74 H1030.5 M924.6 141.62 H1030.5 M924.6 148.51 H1030.5" stroke="#ffffff" stroke-width="0.6" opacity="0.3" fill="none"/></g>
<g clip-path="url(#c01)"><g filter="url(#jet)"><rect x="599.5" y="150.1" width="115.3" height="120.6" rx="0" fill="rgb(0,0,0)"/><rect x="607.5" y="158.1" width="99.3" height="104.1" rx="5" fill="rgb(87,87,87)" filter="url(#b0_8)"/><rect x="610.1" y="160.7" width="94.1" height="99.4" rx="7" fill="rgb(163,163,163)" filter="url(#b1_2)"/><rect x="614.5" y="166.1" width="85.3" height="88.6" rx="14" fill="rgb(135,135,135)" filter="url(#b2_0)"/><path d="M 623.5 188.3 C 642.4 179.4 662.4 166.2 676.1 183.9 C 690.8 188.3 697.2 210.4 693.0 230.3 C 688.7 250.2 667.7 256.9 652.9 252.4 C 636.1 248.0 623.5 236.9 623.5 215.9 C 622.4 204.9 622.4 194.9 623.5 188.3 Z" fill="rgb(107,107,107)" filter="url(#b1_8)"/><path d="M 650.8 188.3 C 657.1 183.9 667.7 186.1 662.4 194.9 C 657.1 201.6 662.4 217.0 655.0 221.5 C 648.7 215.9 650.8 203.8 650.8 188.3 Z" fill="rgb(87,87,87)" filter="url(#b1_0)"/><g style="mix-blend-mode:lighten"><circle cx="617.1" cy="168.2" r="16.2" fill="rgb(102,102,102)" filter="url(#b2_5)"/></g><circle cx="617.1" cy="168.2" r="11.4" fill="rgb(189,189,189)" filter="url(#b2_5)"/><path d="M612.6 163.6 L621.1 172.2 L621.7 172.7 Z" fill="rgb(214,214,214)" filter="url(#b1_5)"/><path d="M611.9 168.2 L621.1 172.2 L622.3 168.2 Z" fill="rgb(214,214,214)" filter="url(#b1_5)"/><circle cx="617.1" cy="168.2" r="6.5" fill="rgb(235,235,235)" filter="url(#b1_2)"/><g style="mix-blend-mode:lighten"><circle cx="697.7" cy="168.2" r="15.0" fill="rgb(102,102,102)" filter="url(#b2_5)"/></g><circle cx="697.7" cy="168.2" r="10.5" fill="rgb(189,189,189)" filter="url(#b2_5)"/><path d="M693.5 172.4 L694.7 171.2 L701.9 164.0 Z" fill="rgb(214,214,214)" filter="url(#b1_5)"/><path d="M692.9 168.2 L694.7 171.2 L702.5 168.2 Z" fill="rgb(214,214,214)" filter="url(#b1_5)"/><circle cx="697.7" cy="168.2" r="6.0" fill="rgb(214,214,214)" filter="url(#b1_2)"/><g style="mix-blend-mode:lighten"><circle cx="617.1" cy="253.5" r="15.0" fill="rgb(102,102,102)" filter="url(#b2_5)"/></g><circle cx="617.1" cy="253.5" r="10.5" fill="rgb(189,189,189)" filter="url(#b2_5)"/><path d="M612.9 257.7 L617.1 245.5 L621.3 249.3 Z" fill="rgb(214,214,214)" filter="url(#b1_5)"/><path d="M612.3 253.5 L617.1 245.5 L621.9 253.5 Z" fill="rgb(214,214,214)" filter="url(#b1_5)"/><circle cx="617.1" cy="253.5" r="6.0" fill="rgb(235,235,235)" filter="url(#b1_2)"/><g style="mix-blend-mode:lighten"><circle cx="698.2" cy="253.5" r="15.0" fill="rgb(102,102,102)" filter="url(#b2_5)"/></g><circle cx="698.2" cy="253.5" r="10.5" fill="rgb(189,189,189)" filter="url(#b2_5)"/><path d="M694.0 249.3 L694.2 247.5 L702.4 257.7 Z" fill="rgb(214,214,214)" filter="url(#b1_5)"/><path d="M693.4 253.5 L694.2 247.5 L703.0 253.5 Z" fill="rgb(214,214,214)" filter="url(#b1_5)"/><circle cx="698.2" cy="253.5" r="6.0" fill="rgb(235,235,235)" filter="url(#b1_2)"/></g><path d="M606.20 155.1 V265.7 M612.78 155.1 V265.7 M619.36 155.1 V265.7 M625.94 155.1 V265.7 M632.53 155.1 V265.7 M639.11 155.1 V265.7 M645.69 155.1 V265.7 M652.27 155.1 V265.7 M658.85 155.1 V265.7 M665.43 155.1 V265.7 M672.01 155.1 V265.7 M678.59 155.1 V265.7 M685.17 155.1 V265.7 M691.76 155.1 V265.7 M698.34 155.1 V265.7 M704.92 155.1 V265.7 M604.5 156.80 H709.8 M604.5 163.71 H709.8 M604.5 170.62 H709.8 M604.5 177.54 H709.8 M604.5 184.45 H709.8 M604.5 191.36 H709.8 M604.5 198.27 H709.8 M604.5 205.19 H709.8 M604.5 212.10 H709.8 M604.5 219.01 H709.8 M604.5 225.92 H709.8 M604.5 232.84 H709.8 M604.5 239.75 H709.8 M604.5 246.66 H709.8 M604.5 253.57 H709.8 M604.5 260.49 H709.8" stroke="#ffffff" stroke-width="0.6" opacity="0.3" fill="none"/></g>
<g clip-path="url(#c11)"><g filter="url(#jet)"><rect x="706.2" y="150.1" width="115.7" height="120.6" rx="0" fill="rgb(0,0,0)"/><rect x="715.2" y="158.1" width="98.7" height="104.1" rx="5" fill="rgb(87,87,87)" filter="url(#b0_8)"/><rect x="716.8" y="160.7" width="94.5" height="99.4" rx="7" fill="rgb(163,163,163)" filter="url(#b1_2)"/><rect x="721.2" y="166.1" width="85.7" height="88.6" rx="16" fill="rgb(138,138,138)" filter="url(#b2_0)"/><path d="M 729.2 210.4 C 730.2 188.3 747.1 177.2 766.2 177.2 C 789.4 177.2 802.1 194.9 800.0 215.9 C 797.9 241.4 783.1 254.6 764.0 254.6 C 742.9 252.4 730.2 236.9 730.2 210.4 Z" fill="rgb(107,107,107)" filter="url(#b2_0)"/><ellipse cx="764.0" cy="199.3" rx="2.6" ry="2.8" fill="rgb(87,87,87)" filter="url(#b1_0)"/><g style="mix-blend-mode:lighten"><circle cx="724.9" cy="168.4" r="17.5" fill="rgb(102,102,102)" filter="url(#b2_5)"/></g><circle cx="724.9" cy="168.4" r="12.2" fill="rgb(189,189,189)" filter="url(#b2_5)"/><path d="M720.0 173.3 L744.9 166.4 L729.8 163.5 Z" fill="rgb(214,214,214)" filter="url(#b1_5)"/><path d="M724.9 162.8 L744.9 166.4 L724.9 174.0 Z" fill="rgb(214,214,214)" filter="url(#b1_5)"/><circle cx="724.9" cy="168.4" r="7.0" fill="rgb(237,237,237)" filter="url(#b1_2)"/><g style="mix-blend-mode:lighten"><circle cx="804.7" cy="168.4" r="16.2" fill="rgb(102,102,102)" filter="url(#b2_5)"/></g><circle cx="804.7" cy="168.4" r="11.4" fill="rgb(189,189,189)" filter="url(#b2_5)"/><path d="M800.2 172.9 L801.7 171.4 L809.3 163.8 Z" fill="rgb(214,214,214)" filter="url(#b1_5)"/><path d="M799.5 168.4 L801.7 171.4 L809.9 168.4 Z" fill="rgb(214,214,214)" filter="url(#b1_5)"/><circle cx="804.7" cy="168.4" r="6.5" fill="rgb(230,230,230)" filter="url(#b1_2)"/><g style="mix-blend-mode:lighten"><circle cx="723.4" cy="254.6" r="13.8" fill="rgb(102,102,102)" filter="url(#b2_5)"/></g><circle cx="723.4" cy="254.6" r="9.6" fill="rgb(189,189,189)" filter="url(#b2_5)"/><path d="M719.5 258.5 L723.4 245.6 L727.2 250.8 Z" fill="rgb(214,214,214)" filter="url(#b1_5)"/><path d="M719.0 254.6 L723.4 245.6 L727.8 254.6 Z" fill="rgb(214,214,214)" filter="url(#b1_5)"/><circle cx="723.4" cy="254.6" r="5.5" fill="rgb(235,235,235)" filter="url(#b1_2)"/><g style="mix-blend-mode:lighten"><circle cx="804.7" cy="254.6" r="15.0" fill="rgb(102,102,102)" filter="url(#b2_5)"/></g><circle cx="804.7" cy="254.6" r="10.5" fill="rgb(189,189,189)" filter="url(#b2_5)"/><path d="M800.5 250.4 L801.7 244.6 L808.9 258.8 Z" fill="rgb(214,214,214)" filter="url(#b1_5)"/><path d="M799.9 254.6 L801.7 244.6 L809.5 254.6 Z" fill="rgb(214,214,214)" filter="url(#b1_5)"/><circle cx="804.7" cy="254.6" r="6.0" fill="rgb(235,235,235)" filter="url(#b1_2)"/></g><path d="M712.90 155.1 V265.7 M719.51 155.1 V265.7 M726.11 155.1 V265.7 M732.72 155.1 V265.7 M739.33 155.1 V265.7 M745.93 155.1 V265.7 M752.54 155.1 V265.7 M759.14 155.1 V265.7 M765.75 155.1 V265.7 M772.36 155.1 V265.7 M778.96 155.1 V265.7 M785.57 155.1 V265.7 M792.18 155.1 V265.7 M798.78 155.1 V265.7 M805.39 155.1 V265.7 M811.99 155.1 V265.7 M711.2 156.80 H816.9 M711.2 163.71 H816.9 M711.2 170.62 H816.9 M711.2 177.54 H816.9 M711.2 184.45 H816.9 M711.2 191.36 H816.9 M711.2 198.27 H816.9 M711.2 205.19 H816.9 M711.2 212.10 H816.9 M711.2 219.01 H816.9 M711.2 225.92 H816.9 M711.2 232.84 H816.9 M711.2 239.75 H816.9 M711.2 246.66 H816.9 M711.2 253.57 H816.9 M711.2 260.49 H816.9" stroke="#ffffff" stroke-width="0.6" opacity="0.3" fill="none"/></g>
<g clip-path="url(#c21)"><g filter="url(#jet)"><rect x="813.3" y="150.1" width="114.9" height="120.6" rx="0" fill="rgb(0,0,0)"/><rect x="823.3" y="158.1" width="96.9" height="104.1" rx="5" fill="rgb(87,87,87)" filter="url(#b0_8)"/><rect x="822.8" y="159.6" width="95.9" height="101.6" rx="7" fill="rgb(143,143,143)" filter="url(#b1_2)"/><rect x="826.3" y="166.1" width="88.9" height="88.6" rx="12" fill="rgb(107,107,107)" filter="url(#b2_0)"/><ellipse cx="839.3" cy="210.4" rx="6.3" ry="27.6" fill="rgb(128,128,128)" filter="url(#b3_0)"/><ellipse cx="907.5" cy="210.4" rx="5.2" ry="27.6" fill="rgb(117,117,117)" filter="url(#b3_0)"/><path d="M 856.1 199.3 C 866.6 188.3 887.5 188.3 895.9 201.6 C 900.1 219.2 891.7 236.9 874.9 239.2 C 860.3 236.9 849.8 221.5 856.1 199.3 Z" fill="rgb(89,89,89)" filter="url(#b2_5)"/><ellipse cx="883.3" cy="201.6" rx="8.4" ry="6.6" fill="rgb(79,79,79)" filter="url(#b1_5)"/><ellipse cx="866.6" cy="217.0" rx="6.3" ry="4.4" fill="rgb(82,82,82)" filter="url(#b1_5)"/><g style="mix-blend-mode:lighten"><circle cx="830.9" cy="168.2" r="12.5" fill="rgb(102,102,102)" filter="url(#b2_5)"/></g><circle cx="830.9" cy="168.2" r="8.8" fill="rgb(189,189,189)" filter="url(#b2_5)"/><path d="M827.4 164.7 L832.9 174.2 L834.4 171.7 Z" fill="rgb(214,214,214)" filter="url(#b1_5)"/><path d="M826.9 168.2 L832.9 174.2 L834.9 168.2 Z" fill="rgb(214,214,214)" filter="url(#b1_5)"/><circle cx="830.9" cy="168.2" r="5.0" fill="rgb(214,214,214)" filter="url(#b1_2)"/><g style="mix-blend-mode:lighten"><circle cx="911.1" cy="168.2" r="11.2" fill="rgb(102,102,102)" filter="url(#b2_5)"/></g><circle cx="911.1" cy="168.2" r="7.9" fill="rgb(189,189,189)" filter="url(#b2_5)"/><circle cx="911.1" cy="168.2" r="4.5" fill="rgb(204,204,204)" filter="url(#b1_2)"/><g style="mix-blend-mode:lighten"><circle cx="830.9" cy="253.5" r="12.5" fill="rgb(102,102,102)" filter="url(#b2_5)"/></g><circle cx="830.9" cy="253.5" r="8.8" fill="rgb(189,189,189)" filter="url(#b2_5)"/><path d="M827.4 257.0 L830.9 247.5 L834.4 250.0 Z" fill="rgb(214,214,214)" filter="url(#b1_5)"/><path d="M826.9 253.5 L830.9 247.5 L834.9 253.5 Z" fill="rgb(214,214,214)" filter="url(#b1_5)"/><circle cx="830.9" cy="253.5" r="5.0" fill="rgb(224,224,224)" filter="url(#b1_2)"/><g style="mix-blend-mode:lighten"><circle cx="911.7" cy="253.5" r="13.8" fill="rgb(102,102,102)" filter="url(#b2_5)"/></g><circle cx="911.7" cy="253.5" r="9.6" fill="rgb(189,189,189)" filter="url(#b2_5)"/><path d="M907.8 249.7 L909.7 249.5 L915.5 257.4 Z" fill="rgb(214,214,214)" filter="url(#b1_5)"/><path d="M907.3 253.5 L909.7 249.5 L916.1 253.5 Z" fill="rgb(214,214,214)" filter="url(#b1_5)"/><circle cx="911.7" cy="253.5" r="5.5" fill="rgb(230,230,230)" filter="url(#b1_2)"/></g><path d="M820.00 155.1 V265.7 M826.56 155.1 V265.7 M833.11 155.1 V265.7 M839.67 155.1 V265.7 M846.23 155.1 V265.7 M852.78 155.1 V265.7 M859.34 155.1 V265.7 M865.89 155.1 V265.7 M872.45 155.1 V265.7 M879.01 155.1 V265.7 M885.56 155.1 V265.7 M892.12 155.1 V265.7 M898.68 155.1 V265.7 M905.23 155.1 V265.7 M911.79 155.1 V265.7 M918.34 155.1 V265.7 M818.3 156.80 H923.2 M818.3 163.71 H923.2 M818.3 170.62 H923.2 M818.3 177.54 H923.2 M818.3 184.45 H923.2 M818.3 191.36 H923.2 M818.3 198.27 H923.2 M818.3 205.19 H923.2 M818.3 212.10 H923.2 M818.3 219.01 H923.2 M818.3 225.92 H923.2 M818.3 232.84 H923.2 M818.3 239.75 H923.2 M818.3 246.66 H923.2 M818.3 253.57 H923.2 M818.3 260.49 H923.2" stroke="#ffffff" stroke-width="0.6" opacity="0.3" fill="none"/></g>
<g clip-path="url(#c31)"><g filter="url(#jet)"><rect x="919.6" y="150.1" width="115.9" height="120.6" rx="0" fill="rgb(0,0,0)"/><rect x="927.6" y="158.1" width="99.9" height="104.1" rx="5" fill="rgb(107,107,107)" filter="url(#b0_8)"/><rect x="928.6" y="159.1" width="97.9" height="102.6" rx="7" fill="rgb(178,178,178)" filter="url(#b1_2)"/><rect x="930.6" y="161.1" width="93.9" height="98.6" rx="9" fill="rgb(199,199,199)" filter="url(#b1_2)"/><rect x="933.6" y="164.1" width="87.9" height="92.6" rx="12" fill="rgb(212,212,212)" filter="url(#b2_0)"/><ellipse cx="940.5" cy="170.6" rx="10.6" ry="10.0" fill="rgb(237,237,237)" filter="url(#b3_0)"/><ellipse cx="1014.6" cy="170.6" rx="10.6" ry="10.0" fill="rgb(237,237,237)" filter="url(#b3_0)"/><ellipse cx="940.5" cy="250.2" rx="10.6" ry="10.0" fill="rgb(237,237,237)" filter="url(#b3_0)"/><ellipse cx="1014.6" cy="250.2" rx="10.6" ry="10.0" fill="rgb(237,237,237)" filter="url(#b3_0)"/><path d="M 943.7 190.5 C 950.0 172.8 972.3 170.6 988.1 171.7 C 1011.4 175.0 1019.9 193.8 1017.8 215.9 C 1015.7 241.4 1000.8 251.3 977.5 251.3 C 954.3 251.3 941.5 239.2 941.5 215.9 C 941.5 204.9 941.5 197.1 943.7 190.5 Z" fill="rgb(171,171,171)" filter="url(#b1_8)"/><path d="M 952.1 197.1 C 959.5 181.6 982.8 179.4 1000.8 186.1 C 1011.4 204.9 1011.4 225.9 1000.8 239.2 C 982.8 245.8 962.7 243.6 954.3 232.5 C 947.9 219.2 947.9 206.0 952.1 197.1 Z" fill="rgb(161,161,161)" filter="url(#b2_5)"/></g><path d="M926.30 155.1 V265.7 M932.92 155.1 V265.7 M939.54 155.1 V265.7 M946.16 155.1 V265.7 M952.78 155.1 V265.7 M959.39 155.1 V265.7 M966.01 155.1 V265.7 M972.63 155.1 V265.7 M979.25 155.1 V265.7 M985.87 155.1 V265.7 M992.49 155.1 V265.7 M999.11 155.1 V265.7 M1005.73 155.1 V265.7 M1012.34 155.1 V265.7 M1018.96 155.1 V265.7 M1025.58 155.1 V265.7 M924.6 156.80 H1030.5 M924.6 163.71 H1030.5 M924.6 170.62 H1030.5 M924.6 177.54 H1030.5 M924.6 184.45 H1030.5 M924.6 191.36 H1030.5 M924.6 198.27 H1030.5 M924.6 205.19 H1030.5 M924.6 212.10 H1030.5 M924.6 219.01 H1030.5 M924.6 225.92 H1030.5 M924.6 232.84 H1030.5 M924.6 239.75 H1030.5 M924.6 246.66 H1030.5 M924.6 253.57 H1030.5 M924.6 260.49 H1030.5" stroke="#ffffff" stroke-width="0.6" opacity="0.3" fill="none"/></g>
<line x1="103.0" y1="508.6" x2="107.5" y2="508.6" stroke="#111" stroke-width="1.3"/>
<text x="101.5" y="512.9" font-size="12.2" font-weight="bold" text-anchor="end" fill="#111" stroke="#111" stroke-width="0.3">0</text>
<line x1="103.0" y1="465.0" x2="107.5" y2="465.0" stroke="#111" stroke-width="1.3"/>
<text x="101.5" y="469.3" font-size="12.2" font-weight="bold" text-anchor="end" fill="#111" stroke="#111" stroke-width="0.3">10</text>
<line x1="103.0" y1="421.40000000000003" x2="107.5" y2="421.40000000000003" stroke="#111" stroke-width="1.3"/>
<text x="101.5" y="425.70000000000005" font-size="12.2" font-weight="bold" text-anchor="end" fill="#111" stroke="#111" stroke-width="0.3">20</text>
<line x1="103.0" y1="377.8" x2="107.5" y2="377.8" stroke="#111" stroke-width="1.3"/>
<text x="101.5" y="382.1" font-size="12.2" font-weight="bold" text-anchor="end" fill="#111" stroke="#111" stroke-width="0.3">30</text>
<line x1="213" y1="377.8" x2="213" y2="508.6" stroke="#333" stroke-width="1.3"/>
<rect x="116.6" y="457.6" width="16.2" height="51.0" fill="#3b3b3b"/>
<rect x="132.8" y="456.3" width="17.1" height="52.3" fill="#f20c0c"/>
<rect x="168.3" y="461.1" width="14.5" height="47.5" fill="#fff" stroke="#222" stroke-width="1.8"/>
<rect x="184.6" y="432.3" width="14.4" height="76.3" fill="#fff" stroke="#e01414" stroke-width="1.8"/>
<rect x="225.6" y="472.0" width="16.4" height="36.6" fill="#3b3b3b"/>
<rect x="242.0" y="464.6" width="16.8" height="44.0" fill="#f20c0c"/>
<rect x="277.59999999999997" y="475.0" width="13.8" height="33.6" fill="#fff" stroke="#222" stroke-width="1.8"/>
<rect x="293.2" y="469.4" width="14.9" height="39.2" fill="#fff" stroke="#e01414" stroke-width="1.8"/>
<path d="M121.2 455.5 H128.2 M124.7 455.5 V457" stroke="#222" stroke-width="1.1" fill="none"/>
<path d="M137.8 453 H144.8 M141.3 453 V456" stroke="#222" stroke-width="1.1" fill="none"/>
<path d="M172.0 454.2 H179.0 M175.5 454.2 V461" stroke="#222" stroke-width="1.1" fill="none"/>
<path d="M188.3 419 H195.3 M191.8 419 V432" stroke="#222" stroke-width="1.1" fill="none"/>
<path d="M230.3 467.5 H237.3 M233.8 467.5 V471" stroke="#222" stroke-width="1.1" fill="none"/>
<path d="M246.9 458.8 H253.9 M250.4 458.8 V465" stroke="#222" stroke-width="1.1" fill="none"/>
<path d="M281.0 469.5 H288.0 M284.5 469.5 V475" stroke="#222" stroke-width="1.1" fill="none"/>
<path d="M297.1 466 H304.1 M300.6 466 V470" stroke="#222" stroke-width="1.1" fill="none"/>
<line x1="107.5" y1="377.8" x2="107.5" y2="509.40000000000003" stroke="#111" stroke-width="1.6"/>
<line x1="106.7" y1="508.6" x2="316" y2="508.6" stroke="#111" stroke-width="1.8"/>
<circle cx="124.6" cy="438.6" r="2.7" fill="#000"/>
<circle cx="124.6" cy="448.2" r="2.7" fill="#000"/>
<circle cx="119.3" cy="458.6" r="2.7" fill="#000"/>
<circle cx="129.8" cy="458.6" r="2.7" fill="#000"/>
<circle cx="118.6" cy="467.8" r="2.7" fill="#000"/>
<circle cx="124.6" cy="463.3" r="2.7" fill="#000"/>
<circle cx="130.5" cy="464.4" r="2.7" fill="#000"/>
<circle cx="124.0" cy="467.0" r="2.7" fill="#000"/>
<circle cx="141.5" cy="432.0" r="2.7" fill="#000"/>
<circle cx="138.9" cy="449.5" r="2.7" fill="#000"/>
<circle cx="143.6" cy="448.0" r="2.7" fill="#000"/>
<circle cx="135.0" cy="459.0" r="2.7" fill="#000"/>
<circle cx="135.8" cy="467.0" r="2.7" fill="#000"/>
<circle cx="141.5" cy="461.0" r="2.7" fill="#000"/>
<circle cx="144.1" cy="465.0" r="2.7" fill="#000"/>
<circle cx="146.7" cy="465.0" r="2.7" fill="#000"/>
<circle cx="174.9" cy="438.3" r="2.7" fill="#000"/>
<circle cx="174.9" cy="448.2" r="2.7" fill="#000"/>
<circle cx="180.6" cy="446.8" r="2.7" fill="#000"/>
<circle cx="168.9" cy="464.4" r="2.7" fill="#000"/>
<circle cx="174.9" cy="459.0" r="2.7" fill="#000"/>
<circle cx="180.6" cy="465.2" r="2.7" fill="#000"/>
<circle cx="174.9" cy="468.5" r="2.7" fill="#000"/>
<circle cx="174.9" cy="494.6" r="2.7" fill="#000"/>
<circle cx="191.8" cy="386.2" r="2.7" fill="#000"/>
<circle cx="191.8" cy="402.0" r="2.7" fill="#000"/>
<circle cx="186.3" cy="425.3" r="2.7" fill="#000"/>
<circle cx="197.5" cy="428.7" r="2.7" fill="#000"/>
<circle cx="185.8" cy="448.2" r="2.7" fill="#000"/>
<circle cx="197.5" cy="451.6" r="2.7" fill="#000"/>
<circle cx="191.8" cy="480.3" r="2.7" fill="#000"/>
<circle cx="233.6" cy="445.0" r="2.7" fill="#000"/>
<circle cx="230.8" cy="468.2" r="2.7" fill="#000"/>
<circle cx="236.5" cy="465.6" r="2.7" fill="#000"/>
<circle cx="228.0" cy="476.0" r="2.7" fill="#000"/>
<circle cx="233.6" cy="476.0" r="2.7" fill="#000"/>
<circle cx="239.3" cy="476.0" r="2.7" fill="#000"/>
<circle cx="228.0" cy="481.4" r="2.7" fill="#000"/>
<circle cx="233.6" cy="481.4" r="2.7" fill="#000"/>
<circle cx="239.3" cy="481.4" r="2.7" fill="#000"/>
<circle cx="250.6" cy="431.4" r="2.7" fill="#000"/>
<circle cx="250.6" cy="448.7" r="2.7" fill="#000"/>
<circle cx="245.0" cy="463.0" r="2.7" fill="#000"/>
<circle cx="256.3" cy="466.3" r="2.7" fill="#000"/>
<circle cx="250.6" cy="470.1" r="2.7" fill="#000"/>
<circle cx="250.6" cy="477.1" r="2.7" fill="#000"/>
<circle cx="245.0" cy="481.8" r="2.7" fill="#000"/>
<circle cx="256.3" cy="478.4" r="2.7" fill="#000"/>
<circle cx="284.1" cy="451.6" r="2.7" fill="#000"/>
<circle cx="278.4" cy="468.6" r="2.7" fill="#000"/>
<circle cx="289.8" cy="465.2" r="2.7" fill="#000"/>
<circle cx="290.3" cy="479.0" r="2.7" fill="#000"/>
<circle cx="278.4" cy="483.7" r="2.7" fill="#000"/>
<circle cx="290.3" cy="486.5" r="2.7" fill="#000"/>
<circle cx="278.4" cy="489.8" r="2.7" fill="#000"/>
<circle cx="306.8" cy="455.4" r="2.7" fill="#000"/>
<circle cx="301.1" cy="460.7" r="2.7" fill="#000"/>
<circle cx="306.8" cy="466.3" r="2.7" fill="#000"/>
<circle cx="301.1" cy="467.1" r="2.7" fill="#000"/>
<circle cx="295.4" cy="471.4" r="2.7" fill="#000"/>
<circle cx="306.8" cy="472.0" r="2.7" fill="#000"/>
<circle cx="303.6" cy="479.0" r="2.7" fill="#000"/>
<circle cx="297.9" cy="480.9" r="2.7" fill="#000"/>
<line x1="132.6" y1="508.6" x2="132.6" y2="513.6" stroke="#111" stroke-width="1.3"/>
<line x1="183" y1="508.6" x2="183" y2="513.6" stroke="#111" stroke-width="1.3"/>
<line x1="242.3" y1="508.6" x2="242.3" y2="513.6" stroke="#111" stroke-width="1.3"/>
<line x1="292.3" y1="508.6" x2="292.3" y2="513.6" stroke="#111" stroke-width="1.3"/>
<text x="0" y="0" font-size="13" font-weight="bold" text-anchor="end" fill="#111" stroke="#111" stroke-width="0.3" transform="translate(137.1,524.1) rotate(-45)">APOE3</text>
<text x="0" y="0" font-size="13" font-weight="bold" text-anchor="end" fill="#111" stroke="#111" stroke-width="0.3" transform="translate(187.5,524.1) rotate(-45)">APOE4</text>
<text x="0" y="0" font-size="13" font-weight="bold" text-anchor="end" fill="#111" stroke="#111" stroke-width="0.3" transform="translate(246.8,524.1) rotate(-45)">APOE3</text>
<text x="0" y="0" font-size="13" font-weight="bold" text-anchor="end" fill="#111" stroke="#111" stroke-width="0.3" transform="translate(296.8,524.1) rotate(-45)">APOE4</text>
<path d="M124.7 413 V344.8 H191.8 V377" fill="none" stroke="#222" stroke-width="1.15"/>
<text x="156.5" y="340.6" font-size="12" font-weight="normal" text-anchor="middle" fill="#222" font-family="Liberation Serif">α</text>
<path d="M141.2 413 V356.9 H191.8 V377" fill="none" stroke="#222" stroke-width="1.15"/>
<text x="164.8" y="354.6" font-size="12" font-weight="normal" text-anchor="middle" fill="#222" font-family="Liberation Serif">α</text>
<path d="M174.6 413 V368.5 H191.8 V377" fill="none" stroke="#222" stroke-width="1.15"/>
<text x="183.2" y="370.4" font-size="12" font-weight="normal" text-anchor="middle" fill="#222" >*</text>
<text x="160.5" y="328.5" font-size="15.5" font-weight="bold" text-anchor="middle" fill="#111" >Male</text>
<text x="265.5" y="328.5" font-size="15.5" font-weight="bold" text-anchor="middle" fill="#111" >Female</text>
<text x="0" y="0" font-size="17.8" font-weight="bold" text-anchor="middle" fill="#111" stroke="#111" stroke-width="0.35" transform="translate(68.8,456) rotate(-90)" textLength="170" lengthAdjust="spacingAndGlyphs">% Duration in Center</text>
<text x="37" y="324.5" font-size="35" font-weight="bold" text-anchor="start" fill="#000" >C</text>
<line x1="424.3" y1="508.8" x2="428.8" y2="508.8" stroke="#111" stroke-width="1.3"/>
<text x="422.8" y="513.1" font-size="12.2" font-weight="bold" text-anchor="end" fill="#111" stroke="#111" stroke-width="0.3">0</text>
<line x1="424.3" y1="475.95" x2="428.8" y2="475.95" stroke="#111" stroke-width="1.3"/>
<text x="422.8" y="480.25" font-size="12.2" font-weight="bold" text-anchor="end" fill="#111" stroke="#111" stroke-width="0.3">10</text>
<line x1="424.3" y1="443.1" x2="428.8" y2="443.1" stroke="#111" stroke-width="1.3"/>
<text x="422.8" y="447.40000000000003" font-size="12.2" font-weight="bold" text-anchor="end" fill="#111" stroke="#111" stroke-width="0.3">20</text>
<line x1="424.3" y1="410.25" x2="428.8" y2="410.25" stroke="#111" stroke-width="1.3"/>
<text x="422.8" y="414.55" font-size="12.2" font-weight="bold" text-anchor="end" fill="#111" stroke="#111" stroke-width="0.3">30</text>
<line x1="424.3" y1="377.4" x2="428.8" y2="377.4" stroke="#111" stroke-width="1.3"/>
<text x="422.8" y="381.7" font-size="12.2" font-weight="bold" text-anchor="end" fill="#111" stroke="#111" stroke-width="0.3">40</text>
<line x1="533.6" y1="377.4" x2="533.6" y2="508.8" stroke="#333" stroke-width="1.3"/>
<rect x="437.2" y="481.5" width="16.8" height="27.3" fill="#3b3b3b"/>
<rect x="454" y="485.8" width="16.5" height="23.0" fill="#f20c0c"/>
<rect x="489.0" y="485.1" width="14.1" height="23.7" fill="#fff" stroke="#222" stroke-width="1.8"/>
<rect x="504.9" y="448.7" width="14.8" height="60.1" fill="#fff" stroke="#e01414" stroke-width="1.8"/>
<rect x="546.3" y="494.0" width="16.8" height="14.8" fill="#3b3b3b"/>
<rect x="563.1" y="492.7" width="16.7" height="16.1" fill="#f20c0c"/>
<rect x="597.5" y="494.3" width="14.2" height="14.5" fill="#fff" stroke="#222" stroke-width="1.8"/>
<rect x="613.5" y="489.7" width="15.0" height="19.1" fill="#fff" stroke="#e01414" stroke-width="1.8"/>
<path d="M442.1 472 H449.1 M445.6 472 V481.5" stroke="#222" stroke-width="1.1" fill="none"/>
<path d="M458.7 476 H465.7 M462.2 476 V485.8" stroke="#222" stroke-width="1.1" fill="none"/>
<path d="M492.5 478 H499.5 M496 478 V485" stroke="#222" stroke-width="1.1" fill="none"/>
<path d="M508.79999999999995 437.6 H515.8 M512.3 437.6 V449" stroke="#222" stroke-width="1.1" fill="none"/>
<path d="M551.2 488 H558.2 M554.7 488 V494" stroke="#222" stroke-width="1.1" fill="none"/>
<path d="M567.9 487 H574.9 M571.4 487 V492" stroke="#222" stroke-width="1.1" fill="none"/>
<path d="M601.1 489 H608.1 M604.6 489 V494" stroke="#222" stroke-width="1.1" fill="none"/>
<path d="M617.5 486 H624.5 M621 486 V490" stroke="#222" stroke-width="1.1" fill="none"/>
<line x1="428.8" y1="377.4" x2="428.8" y2="509.6" stroke="#111" stroke-width="1.6"/>
<line x1="428.0" y1="508.8" x2="637.6" y2="508.8" stroke="#111" stroke-width="1.8"/>
<circle cx="445.3" cy="443.8" r="2.7" fill="#000"/>
<circle cx="445.3" cy="472.8" r="2.7" fill="#000"/>
<circle cx="439.9" cy="483.8" r="2.7" fill="#000"/>
<circle cx="445.3" cy="483.8" r="2.7" fill="#000"/>
<circle cx="450.9" cy="487.9" r="2.7" fill="#000"/>
<circle cx="445.3" cy="490.6" r="2.7" fill="#000"/>
<circle cx="439.9" cy="494.1" r="2.7" fill="#000"/>
<circle cx="450.9" cy="494.1" r="2.7" fill="#000"/>
<circle cx="462.2" cy="462.5" r="2.7" fill="#000"/>
<circle cx="462.2" cy="473.4" r="2.7" fill="#000"/>
<circle cx="462.2" cy="482.3" r="2.7" fill="#000"/>
<circle cx="456.0" cy="488.9" r="2.7" fill="#000"/>
<circle cx="461.8" cy="491.0" r="2.7" fill="#000"/>
<circle cx="456.0" cy="495.1" r="2.7" fill="#000"/>
<circle cx="462.2" cy="495.6" r="2.7" fill="#000"/>
<circle cx="468.0" cy="495.6" r="2.7" fill="#000"/>
<circle cx="495.7" cy="465.1" r="2.7" fill="#000"/>
<circle cx="490.1" cy="478.2" r="2.7" fill="#000"/>
<circle cx="495.7" cy="481.7" r="2.7" fill="#000"/>
<circle cx="501.5" cy="480.7" r="2.7" fill="#000"/>
<circle cx="490.1" cy="486.5" r="2.7" fill="#000"/>
<circle cx="495.7" cy="492.0" r="2.7" fill="#000"/>
<circle cx="501.5" cy="490.6" r="2.7" fill="#000"/>
<circle cx="495.7" cy="507.1" r="2.7" fill="#000"/>
<circle cx="512.9" cy="413.4" r="2.7" fill="#000"/>
<circle cx="507.3" cy="426.5" r="2.7" fill="#000"/>
<circle cx="518.5" cy="424.8" r="2.7" fill="#000"/>
<circle cx="512.9" cy="443.4" r="2.7" fill="#000"/>
<circle cx="512.9" cy="461.0" r="2.7" fill="#000"/>
<circle cx="512.9" cy="474.9" r="2.7" fill="#000"/>
<circle cx="512.9" cy="497.6" r="2.7" fill="#000"/>
<circle cx="554.5" cy="470.0" r="2.7" fill="#000"/>
<circle cx="551.7" cy="488.9" r="2.7" fill="#000"/>
<circle cx="557.5" cy="488.9" r="2.7" fill="#000"/>
<circle cx="560.6" cy="494.5" r="2.7" fill="#000"/>
<circle cx="548.7" cy="500.0" r="2.7" fill="#000"/>
<circle cx="554.5" cy="502.6" r="2.7" fill="#000"/>
<circle cx="560.6" cy="502.6" r="2.7" fill="#000"/>
<circle cx="548.7" cy="505.2" r="2.7" fill="#000"/>
<circle cx="577.1" cy="480.8" r="2.7" fill="#000"/>
<circle cx="571.3" cy="483.5" r="2.7" fill="#000"/>
<circle cx="571.3" cy="491.2" r="2.7" fill="#000"/>
<circle cx="565.9" cy="493.5" r="2.7" fill="#000"/>
<circle cx="577.1" cy="493.9" r="2.7" fill="#000"/>
<circle cx="571.3" cy="496.5" r="2.7" fill="#000"/>
<circle cx="565.9" cy="502.2" r="2.7" fill="#000"/>
<circle cx="577.1" cy="500.3" r="2.7" fill="#000"/>
<circle cx="604.2" cy="473.9" r="2.7" fill="#000"/>
<circle cx="601.1" cy="487.3" r="2.7" fill="#000"/>
<circle cx="607.2" cy="487.3" r="2.7" fill="#000"/>
<circle cx="598.8" cy="499.6" r="2.7" fill="#000"/>
<circle cx="604.2" cy="501.9" r="2.7" fill="#000"/>
<circle cx="609.5" cy="503.7" r="2.7" fill="#000"/>
<circle cx="598.8" cy="504.9" r="2.7" fill="#000"/>
<circle cx="624.0" cy="480.8" r="2.7" fill="#000"/>
<circle cx="621.0" cy="485.0" r="2.7" fill="#000"/>
<circle cx="617.9" cy="489.6" r="2.7" fill="#000"/>
<circle cx="623.6" cy="490.0" r="2.7" fill="#000"/>
<circle cx="615.3" cy="492.7" r="2.7" fill="#000"/>
<circle cx="621.0" cy="491.9" r="2.7" fill="#000"/>
<circle cx="626.6" cy="494.5" r="2.7" fill="#000"/>
<line x1="454" y1="508.8" x2="454" y2="513.8" stroke="#111" stroke-width="1.3"/>
<line x1="504.2" y1="508.8" x2="504.2" y2="513.8" stroke="#111" stroke-width="1.3"/>
<line x1="563.2" y1="508.8" x2="563.2" y2="513.8" stroke="#111" stroke-width="1.3"/>
<line x1="612.8" y1="508.8" x2="612.8" y2="513.8" stroke="#111" stroke-width="1.3"/>
<text x="0" y="0" font-size="13" font-weight="bold" text-anchor="end" fill="#111" stroke="#111" stroke-width="0.3" transform="translate(458.5,524.3) rotate(-45)">APOE3</text>
<text x="0" y="0" font-size="13" font-weight="bold" text-anchor="end" fill="#111" stroke="#111" stroke-width="0.3" transform="translate(508.7,524.3) rotate(-45)">APOE4</text>
<text x="0" y="0" font-size="13" font-weight="bold" text-anchor="end" fill="#111" stroke="#111" stroke-width="0.3" transform="translate(567.7,524.3) rotate(-45)">APOE3</text>
<text x="0" y="0" font-size="13" font-weight="bold" text-anchor="end" fill="#111" stroke="#111" stroke-width="0.3" transform="translate(617.3,524.3) rotate(-45)">APOE4</text>
<path d="M445.6 423 V355.3 H513.2 V390" fill="none" stroke="#222" stroke-width="1.15"/>
<text x="478.6" y="357.0" font-size="12" font-weight="normal" text-anchor="middle" fill="#222" >*</text>
<path d="M462.3 422 V365.6 H513.2 V390" fill="none" stroke="#222" stroke-width="1.15"/>
<text x="488.5" y="368.1" font-size="12" font-weight="normal" text-anchor="middle" fill="#222" >**</text>
<path d="M495.8 423 V379 H513.2 V390" fill="none" stroke="#222" stroke-width="1.15"/>
<text x="504.1" y="379.6" font-size="12" font-weight="normal" text-anchor="middle" fill="#222" >**</text>
<text x="481.2" y="328.5" font-size="15.5" font-weight="bold" text-anchor="middle" fill="#111" >Male</text>
<text x="586" y="328.5" font-size="15.5" font-weight="bold" text-anchor="middle" fill="#111" >Female</text>
<text x="0" y="0" font-size="17.8" font-weight="bold" text-anchor="middle" fill="#111" stroke="#111" stroke-width="0.35" transform="translate(390.5,452.7) rotate(-90)" textLength="178" lengthAdjust="spacingAndGlyphs">% Rest Time in Center</text>
<text x="356" y="324.5" font-size="35" font-weight="bold" text-anchor="start" fill="#000" >D</text>
<line x1="737.5" y1="508.8" x2="742" y2="508.8" stroke="#111" stroke-width="1.3"/>
<text x="736" y="513.1" font-size="12.2" font-weight="bold" text-anchor="end" fill="#111" stroke="#111" stroke-width="0.3">0</text>
<line x1="737.5" y1="475.95" x2="742" y2="475.95" stroke="#111" stroke-width="1.3"/>
<text x="736" y="480.25" font-size="12.2" font-weight="bold" text-anchor="end" fill="#111" stroke="#111" stroke-width="0.3">10</text>
<line x1="737.5" y1="443.1" x2="742" y2="443.1" stroke="#111" stroke-width="1.3"/>
<text x="736" y="447.40000000000003" font-size="12.2" font-weight="bold" text-anchor="end" fill="#111" stroke="#111" stroke-width="0.3">20</text>
<line x1="737.5" y1="410.25" x2="742" y2="410.25" stroke="#111" stroke-width="1.3"/>
<text x="736" y="414.55" font-size="12.2" font-weight="bold" text-anchor="end" fill="#111" stroke="#111" stroke-width="0.3">30</text>
<line x1="737.5" y1="377.4" x2="742" y2="377.4" stroke="#111" stroke-width="1.3"/>
<text x="736" y="381.7" font-size="12.2" font-weight="bold" text-anchor="end" fill="#111" stroke="#111" stroke-width="0.3">40</text>
<line x1="848.2" y1="377.4" x2="848.2" y2="508.8" stroke="#333" stroke-width="1.3"/>
<rect x="751.8" y="430.0" width="16.1" height="78.8" fill="#3b3b3b"/>
<rect x="767.9" y="425.7" width="16.4" height="83.1" fill="#f20c0c"/>
<rect x="803.1999999999999" y="433.2" width="14.0" height="75.6" fill="#fff" stroke="#222" stroke-width="1.8"/>
<rect x="819.0" y="419.4" width="14.5" height="89.4" fill="#fff" stroke="#e01414" stroke-width="1.8"/>
<rect x="859.9" y="457.9" width="16.2" height="50.9" fill="#3b3b3b"/>
<rect x="876.1" y="440.5" width="17.0" height="68.3" fill="#f20c0c"/>
<rect x="911.6" y="454.6" width="14.2" height="54.2" fill="#fff" stroke="#222" stroke-width="1.8"/>
<rect x="927.6" y="449.7" width="14.6" height="59.1" fill="#fff" stroke="#e01414" stroke-width="1.8"/>
<path d="M756.3 426 H763.3 M759.8 426 V430" stroke="#222" stroke-width="1.1" fill="none"/>
<path d="M772.6 418.2 H779.6 M776.1 418.2 V425.3" stroke="#222" stroke-width="1.1" fill="none"/>
<path d="M806.7 426 H813.7 M810.2 426 V433.9" stroke="#222" stroke-width="1.1" fill="none"/>
<path d="M822.7 411.2 H829.7 M826.2 411.2 V419.5" stroke="#222" stroke-width="1.1" fill="none"/>
<path d="M864.5 451 H871.5 M868 451 V458" stroke="#222" stroke-width="1.1" fill="none"/>
<path d="M881.1 432.7 H888.1 M884.6 432.7 V440.3" stroke="#222" stroke-width="1.1" fill="none"/>
<path d="M915.2 448 H922.2 M918.7 448 V455.4" stroke="#222" stroke-width="1.1" fill="none"/>
<path d="M931.5 444.5 H938.5 M935 444.5 V450" stroke="#222" stroke-width="1.1" fill="none"/>
<line x1="742" y1="377.4" x2="742" y2="509.6" stroke="#111" stroke-width="1.6"/>
<line x1="741.2" y1="508.8" x2="952.4" y2="508.8" stroke="#111" stroke-width="1.8"/>
<circle cx="759.6" cy="414.8" r="2.7" fill="#000"/>
<circle cx="759.6" cy="424.2" r="2.7" fill="#000"/>
<circle cx="753.6" cy="431.3" r="2.7" fill="#000"/>
<circle cx="759.6" cy="430.5" r="2.7" fill="#000"/>
<circle cx="764.8" cy="432.0" r="2.7" fill="#000"/>
<circle cx="753.6" cy="436.5" r="2.7" fill="#000"/>
<circle cx="759.6" cy="434.6" r="2.7" fill="#000"/>
<circle cx="764.8" cy="436.5" r="2.7" fill="#000"/>
<circle cx="776.0" cy="387.7" r="2.7" fill="#000"/>
<circle cx="776.0" cy="406.5" r="2.7" fill="#000"/>
<circle cx="773.4" cy="425.3" r="2.7" fill="#000"/>
<circle cx="779.1" cy="423.4" r="2.7" fill="#000"/>
<circle cx="770.8" cy="439.0" r="2.7" fill="#000"/>
<circle cx="776.0" cy="439.9" r="2.7" fill="#000"/>
<circle cx="781.7" cy="439.9" r="2.7" fill="#000"/>
<circle cx="770.8" cy="443.0" r="2.7" fill="#000"/>
<circle cx="809.9" cy="398.2" r="2.7" fill="#000"/>
<circle cx="803.9" cy="419.5" r="2.7" fill="#000"/>
<circle cx="815.6" cy="422.1" r="2.7" fill="#000"/>
<circle cx="809.9" cy="433.9" r="2.7" fill="#000"/>
<circle cx="815.6" cy="440.4" r="2.7" fill="#000"/>
<circle cx="803.9" cy="442.5" r="2.7" fill="#000"/>
<circle cx="815.6" cy="453.4" r="2.7" fill="#000"/>
<circle cx="803.9" cy="457.3" r="2.7" fill="#000"/>
<circle cx="826.8" cy="385.6" r="2.7" fill="#000"/>
<circle cx="826.8" cy="401.3" r="2.7" fill="#000"/>
<circle cx="826.8" cy="412.2" r="2.7" fill="#000"/>
<circle cx="821.3" cy="423.4" r="2.7" fill="#000"/>
<circle cx="832.5" cy="422.1" r="2.7" fill="#000"/>
<circle cx="826.8" cy="436.5" r="2.7" fill="#000"/>
<circle cx="826.8" cy="454.7" r="2.7" fill="#000"/>
<circle cx="867.7" cy="438.3" r="2.7" fill="#000"/>
<circle cx="867.7" cy="445.1" r="2.7" fill="#000"/>
<circle cx="867.7" cy="454.2" r="2.7" fill="#000"/>
<circle cx="862.6" cy="460.0" r="2.7" fill="#000"/>
<circle cx="873.5" cy="460.4" r="2.7" fill="#000"/>
<circle cx="867.7" cy="463.7" r="2.7" fill="#000"/>
<circle cx="864.6" cy="471.3" r="2.7" fill="#000"/>
<circle cx="870.8" cy="470.7" r="2.7" fill="#000"/>
<circle cx="884.7" cy="408.3" r="2.7" fill="#000"/>
<circle cx="884.7" cy="414.5" r="2.7" fill="#000"/>
<circle cx="884.7" cy="433.1" r="2.7" fill="#000"/>
<circle cx="884.7" cy="441.4" r="2.7" fill="#000"/>
<circle cx="884.7" cy="448.6" r="2.7" fill="#000"/>
<circle cx="878.5" cy="460.0" r="2.7" fill="#000"/>
<circle cx="884.7" cy="458.9" r="2.7" fill="#000"/>
<circle cx="890.5" cy="460.0" r="2.7" fill="#000"/>
<circle cx="918.4" cy="427.9" r="2.7" fill="#000"/>
<circle cx="912.8" cy="445.1" r="2.7" fill="#000"/>
<circle cx="924.0" cy="441.4" r="2.7" fill="#000"/>
<circle cx="912.8" cy="461.6" r="2.7" fill="#000"/>
<circle cx="924.0" cy="461.6" r="2.7" fill="#000"/>
<circle cx="918.4" cy="468.2" r="2.7" fill="#000"/>
<circle cx="918.4" cy="476.1" r="2.7" fill="#000"/>
<circle cx="935.0" cy="427.9" r="2.7" fill="#000"/>
<circle cx="941.2" cy="439.3" r="2.7" fill="#000"/>
<circle cx="929.4" cy="443.8" r="2.7" fill="#000"/>
<circle cx="929.4" cy="454.2" r="2.7" fill="#000"/>
<circle cx="940.5" cy="454.2" r="2.7" fill="#000"/>
<circle cx="940.5" cy="461.6" r="2.7" fill="#000"/>
<circle cx="929.4" cy="466.2" r="2.7" fill="#000"/>
<line x1="767.9" y1="508.8" x2="767.9" y2="513.8" stroke="#111" stroke-width="1.3"/>
<line x1="818.1" y1="508.8" x2="818.1" y2="513.8" stroke="#111" stroke-width="1.3"/>
<line x1="876.1" y1="508.8" x2="876.1" y2="513.8" stroke="#111" stroke-width="1.3"/>
<line x1="926.7" y1="508.8" x2="926.7" y2="513.8" stroke="#111" stroke-width="1.3"/>
<text x="0" y="0" font-size="13" font-weight="bold" text-anchor="end" fill="#111" stroke="#111" stroke-width="0.3" transform="translate(772.4,524.3) rotate(-45)">APOE3</text>
<text x="0" y="0" font-size="13" font-weight="bold" text-anchor="end" fill="#111" stroke="#111" stroke-width="0.3" transform="translate(822.6,524.3) rotate(-45)">APOE4</text>
<text x="0" y="0" font-size="13" font-weight="bold" text-anchor="end" fill="#111" stroke="#111" stroke-width="0.3" transform="translate(880.6,524.3) rotate(-45)">APOE3</text>
<text x="0" y="0" font-size="13" font-weight="bold" text-anchor="end" fill="#111" stroke="#111" stroke-width="0.3" transform="translate(931.2,524.3) rotate(-45)">APOE4</text>
<text x="795.3" y="328.5" font-size="15.5" font-weight="bold" text-anchor="middle" fill="#111" >Male</text>
<text x="899.5" y="328.5" font-size="15.5" font-weight="bold" text-anchor="middle" fill="#111" >Female</text>
<text x="0" y="0" font-size="17.8" font-weight="bold" text-anchor="middle" fill="#111" stroke="#111" stroke-width="0.35" transform="translate(702.8,455.5) rotate(-90)" textLength="170" lengthAdjust="spacingAndGlyphs">% Distance in Center</text>
<text x="670" y="324.5" font-size="35" font-weight="bold" text-anchor="start" fill="#000" >E</text>
<rect x="957.6" y="376.8" width="10.8" height="10.8" fill="#000"/>
<rect x="957.6" y="391.6" width="10.8" height="11.2" fill="#f20c0c"/>
<text x="975" y="385.8" font-size="12.8" font-weight="normal" text-anchor="start" fill="#111" >Control</text>
<text x="975" y="401.5" font-size="12.8" font-weight="normal" text-anchor="start" fill="#111" >PS-NMPs</text></svg></body></html>
